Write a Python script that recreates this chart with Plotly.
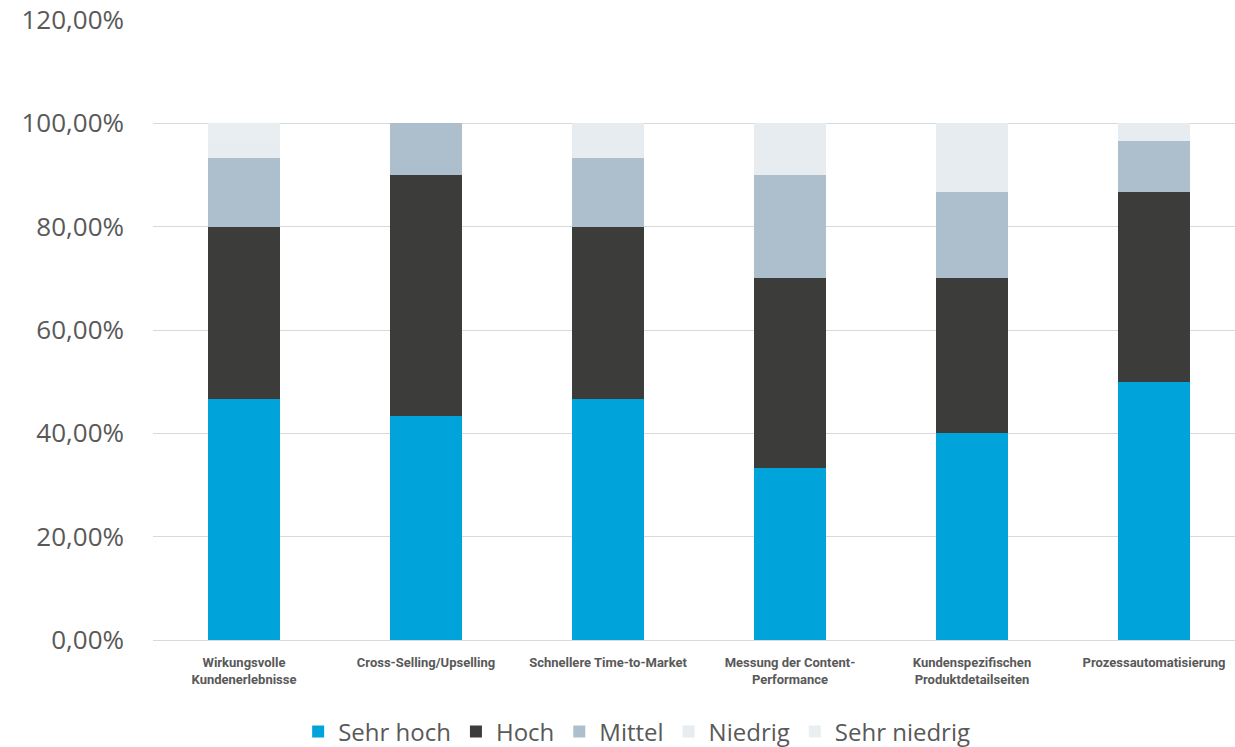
import plotly.graph_objects as go

categories = ["Wirkungsvolle<br>Kundenerlebnisse", "Cross-Selling/Upselling", "Schnellere Time-to-Market",
              "Messung der Content-<br>Performance", "Kundenspezifischen<br>Produktdetailseiten",
              "Prozessautomatisierung"]
sehr_hoch = [46.67, 43.33, 46.67, 33.33, 40.00, 50.00]
hoch = [33.33, 46.67, 33.33, 36.67, 30.00, 36.67]
mittel = [13.33, 10.00, 13.33, 20.00, 16.67, 10.00]
niedrig = [3.33, 0.00, 6.67, 10.00, 13.33, 3.33]
sehr_niedrig = [3.33, 0.00, 0.00, 0.00, 0.00, 0.00]
y_ticks = [0, 20, 40, 60, 80, 100, 120]
y_tick_labels = ["0,00%", "20,00%", "40,00%", "60,00%", "80,00%", "100,00%", "120,00%"]

series = [
    ("Sehr hoch", sehr_hoch, "#00A3DA"),
    ("Hoch", hoch, "#3C3C3B"),
    ("Mittel", mittel, "#ADBFCD"),
    ("Niedrig", niedrig, "#E6ECEF"),
    ("Sehr niedrig", sehr_niedrig, "#E9EEF1"),
]

xpos = list(range(len(categories)))
fig = go.Figure()
for name, vals, col in series:
    fig.add_trace(go.Bar(x=xpos, y=vals, name=name, marker=dict(color=col, line=dict(width=0)),
                         width=0.4))

fig.update_layout(
    barmode="stack",
    width=1235, height=747,
    margin=dict(l=153, r=0, t=20, b=107, autoexpand=False),
    plot_bgcolor="white", paper_bgcolor="white",
    font=dict(family="Open Sans", color="#595959"),
    legend=dict(orientation="h", x=0.447, xanchor="center", y=-0.112, yanchor="top",
                font=dict(size=24, family="Open Sans", color="#595959"), traceorder="normal",
                itemwidth=30),
    showlegend=True,
)
fig.update_xaxes(range=[-0.5, 5.5 - 10 / 182], tickvals=xpos, ticktext=["<b>%s</b>" % c for c in categories],
                 tickfont=dict(size=13, family="Roboto", color="#595959"),
                 showgrid=False, showline=True, linecolor="#D9D9D9", linewidth=1, ticks="",
                 ticklabelstandoff=10, automargin=False)
fig.update_yaxes(range=[0, 120], tickvals=y_ticks, ticktext=y_tick_labels,
                 tickfont=dict(size=26, family="Open Sans", color="#595959"),
                 showgrid=True, gridcolor="#D9D9D9", gridwidth=1, zeroline=False, ticks="",
                 ticklabelstandoff=28, automargin=False)
fig.write_html("out.html")
